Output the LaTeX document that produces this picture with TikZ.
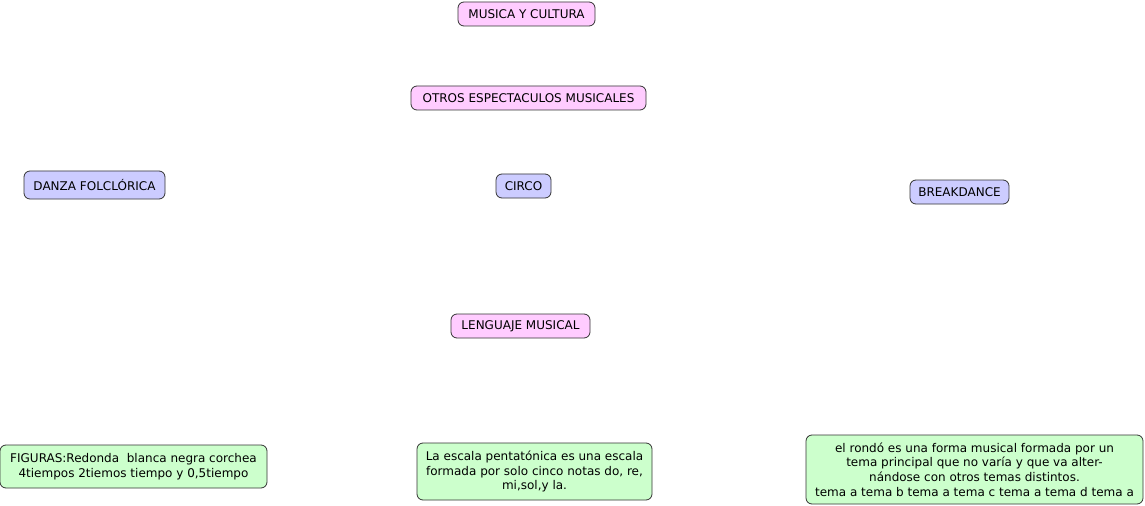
\documentclass[tikz,border=0pt]{standalone}
\usepackage{fontspec}
\setmainfont{DejaVu Sans}
\begin{document}
\begin{tikzpicture}[x=0.75pt,y=-0.75pt,
  box/.style={draw=black!80, rounded corners=4.5pt, line width=0.6pt, inner sep=0pt,
    font=\fontsize{9pt}{11pt}\selectfont, align=center, anchor=center},
  pinkbox/.style={box, fill={rgb,255:red,255;green,204;blue,255}},
  bluebox/.style={box, fill={rgb,255:red,204;green,204;blue,255}},
  greenbox/.style={box, fill={rgb,255:red,204;green,255;blue,204}}]
\useasboundingbox (0,0) rectangle (1145,506);
\node[pinkbox, minimum width=137*0.75pt, minimum height=24*0.75pt] (musica) at (526.5,14) {MUSICA Y CULTURA};
\node[pinkbox, minimum width=235*0.75pt, minimum height=24*0.75pt] (otros) at (528.5,98) {OTROS ESPECTACULOS MUSICALES};
\node[bluebox, minimum width=141*0.75pt, minimum height=28*0.75pt] (danza) at (94.5,185) {DANZA FOLCLÓRICA};
\node[bluebox, minimum width=55*0.75pt, minimum height=24*0.75pt] (circo) at (523.5,186) {CIRCO};
\node[bluebox, minimum width=99*0.75pt, minimum height=24*0.75pt] (break) at (959.5,192) {BREAKDANCE};
\node[pinkbox, minimum width=139*0.75pt, minimum height=24*0.75pt] (lenguaje) at (520.5,326) {LENGUAJE MUSICAL};
\node[greenbox, minimum width=267*0.75pt, minimum height=43*0.75pt] (figuras) at (133.5,466.5) {FIGURAS:Redonda\ \ blanca negra corchea\\4tiempos 2tiemos tiempo y 0,5tiempo};
\node[greenbox, minimum width=235*0.75pt, minimum height=57*0.75pt] (escala) at (534.5,471.5) {La escala pentatónica es una escala\\formada por solo cinco notas do, re,\\mi,sol,y la.};
\node[greenbox, minimum width=337*0.75pt, minimum height=69*0.75pt] (rondo) at (974.5,469.5) {el rondó es una forma musical formada por un\\tema principal que no varía y que va alter-\\nándose con otros temas distintos.\\tema a tema b tema a tema c tema a tema d tema a};
\end{tikzpicture}
\end{document}
